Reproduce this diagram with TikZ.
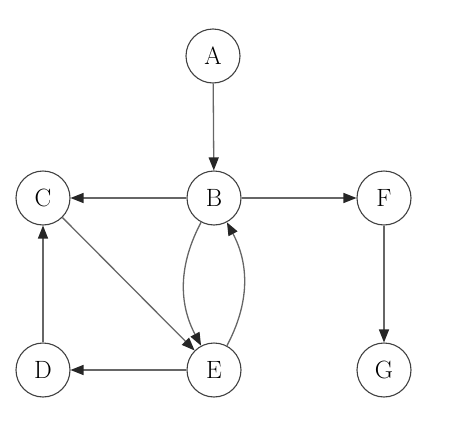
\documentclass[tikz,border=0pt]{standalone}
\usetikzlibrary{arrows.meta}
\begin{document}
\begin{tikzpicture}[x=1pt,y=-1pt,
  vtx/.style={circle,draw=black!75,line width=1.1pt,minimum size=54pt,inner sep=0pt,font=\fontsize{25}{25}\selectfont},
  edge/.style={draw=black!60,line width=1.3pt,-{Triangle[length=13pt,width=10pt,color=black!85]}}]
\useasboundingbox (0,0) rectangle (456,426);
\node[vtx] (A) at (213,56) {A};
\node[vtx] (B) at (214,198) {B};
\node[vtx] (C) at (43,198) {C};
\node[vtx] (F) at (384,198) {F};
\node[vtx] (D) at (43,370) {D};
\node[vtx] (E) at (214,370) {E};
\node[vtx] (G) at (384,370) {G};
\draw[edge] (A) -- (B);
\draw[edge] (B) -- (C);
\draw[edge] (B) -- (F);
\draw[edge] (F) -- (G);
\draw[edge] (C) -- (E);
\draw[edge] (D) -- (C);
\draw[edge] (E) -- (D);
\draw[edge] (B) to[bend right=28] (E);
\draw[edge] (E) to[bend right=28] (B);
\end{tikzpicture}
\end{document}
